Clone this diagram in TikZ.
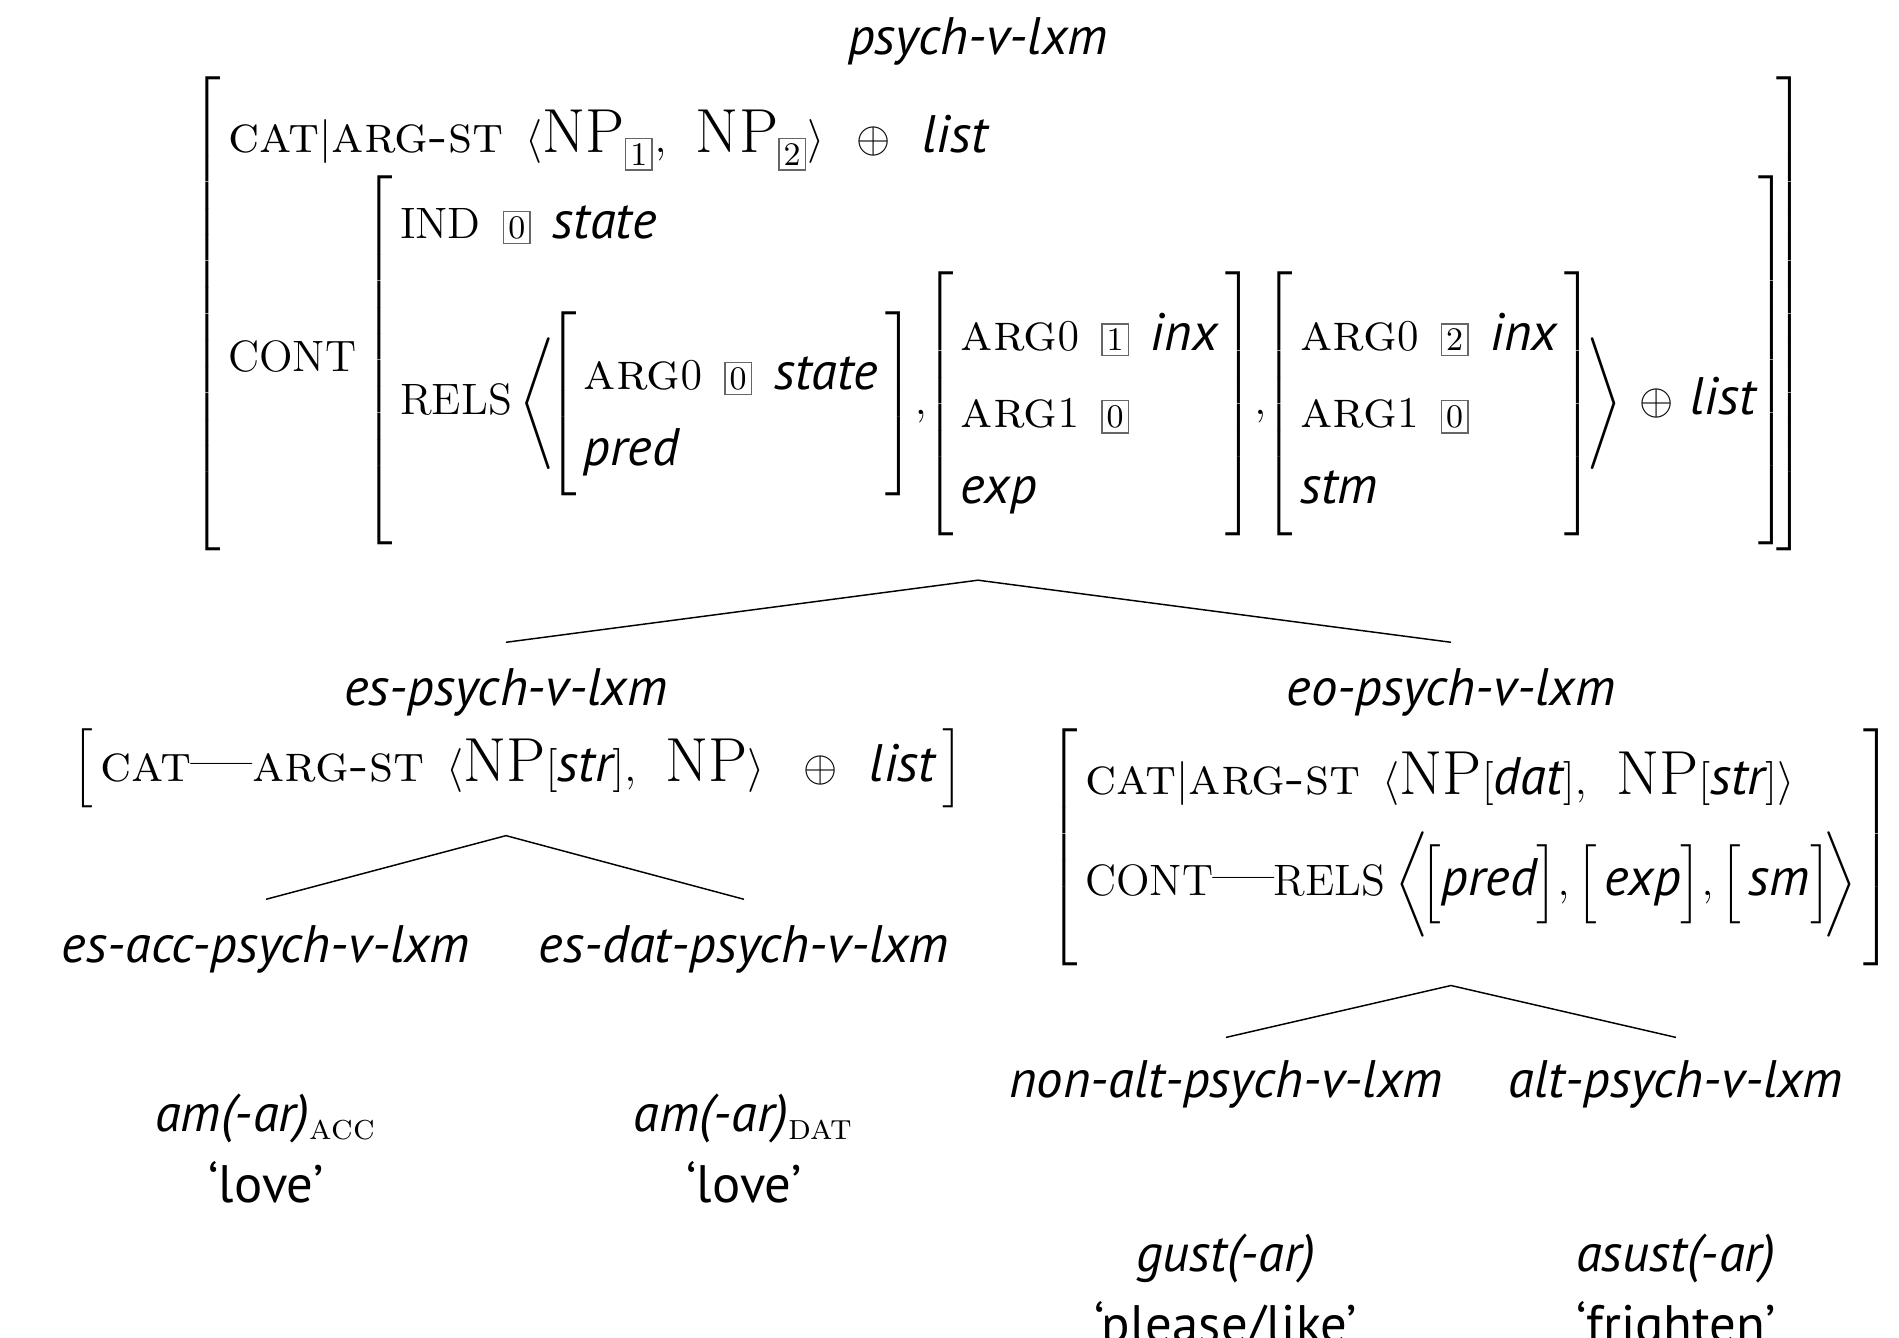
\documentclass[tikz,border=0pt]{standalone}
\usepackage{amsmath}
\usepackage{fontspec}
\newfontfamily\typefont{PT Sans}
\usetikzlibrary{positioning}

% italic type names, features and boxed tags
\newcommand{\ty}[1]{\text{\fontsize{14.4}{17}\selectfont\typefont\itshape #1}}
\newcommand{\fsc}[1]{\text{\fontsize{14.4}{17}\selectfont\scshape #1}}
\newcommand{\np}{\text{\fontsize{17}{20}\selectfont NP}}
\newcommand{\dash}{\text{\fontsize{18}{20}\selectfont ---}}
\newcommand{\tg}[1]{\text{\setlength{\fboxsep}{1.1pt}\setlength{\fboxrule}{0.4pt}\fcolorbox{black!60}{white}{\fontsize{9}{10}\selectfont\normalfont #1}}}
\newcommand{\gap}{\mkern9mu}
\newcommand{\pad}{\hspace{2pt}}
\newcommand{\tp}{\rule{0pt}{19pt}}
\newcommand{\avm}[1]{\renewcommand{\arraystretch}{1.45}\delimitershortfall=-1pt\delimiterfactor=1001 $#1$}
\newcommand{\lex}[2]{\begin{tabular}[t]{@{}c@{}}#1\\[1.2pt]#2\end{tabular}}

\begin{document}
\begin{tikzpicture}[x=0.0096cm, y=-0.0096cm, typelabel/.style={font=\Large\typefont\itshape, inner sep=0pt, anchor=base}, avmbox/.style={font=\fontsize{12}{14.4}\selectfont, inner sep=0pt, anchor=north west}, lexeme/.style={font=\Large\typefont, inner sep=0pt, anchor=base}, branch/.style={line width=0.4pt}]
\useasboundingbox (0,0) rectangle (1899,1338);
% top type
\node[typelabel] (psych) at (978,55) {psych-v-lxm};
\node[avmbox] (psychavm) at (191,76) {\avm{\left[\begin{array}{@{\pad}l@{\hspace{-3pt}}}
  \tp\fsc{cat}|\fsc{arg-st}\gap\langle\np_{\tg{1}},\gap\np_{\tg{2}}\rangle\gap\oplus\gap\ty{list}\\
  \mathrm{CONT}\left[\begin{array}{@{\pad}l@{\pad}}
    \mathrm{IND}\gap\tg{0}\gap\ty{state}\\[3pt]
    \mathrm{RELS}\mkern3mu\Biggl\langle\!\left[\begin{array}{@{\pad}l@{\pad}}
      \tp\fsc{arg}0\gap\tg{0}\gap\ty{state}\\
      \ty{pred}
    \end{array}\right]\!,\mkern-4mu\left[\begin{array}{@{\pad}l@{\pad}}
      \tp\fsc{arg}0\gap\tg{1}\gap\ty{inx}\\
      \fsc{arg}1\gap\tg{0}\\
      \ty{exp}
    \end{array}\right]\!,\mkern-4mu\left[\begin{array}{@{\pad}l@{\pad}}
      \tp\fsc{arg}0\gap\tg{2}\gap\ty{inx}\\
      \fsc{arg}1\gap\tg{0}\\
      \ty{stm}
    \end{array}\right]\!\Biggr\rangle\mkern3mu\oplus\mkern3mu\ty{list}\mkern-2mu
  \end{array}\right]\\[4pt]
\end{array}\right]}};
% subject experiencer
\node[typelabel] (es) at (506,706) {es-psych-v-lxm};
\node[avmbox] (esavm) at (72,728) {\avm{\renewcommand{\arraystretch}{1.3}\left[\begin{array}{@{\pad}l@{\pad}}
  \fsc{cat}\dash\fsc{arg-st}\gap\langle\np[\ty{str}],\gap\np\rangle\mkern12mu\oplus\gap\ty{list}
\end{array}\right]}};
% object experiencer
\node[typelabel] (eo) at (1451,706) {eo-psych-v-lxm};
\node[avmbox] (eoavm) at (1048,728) {\avm{\left[\begin{array}{@{\pad}l@{\pad}}
  \fsc{cat}|\fsc{arg-st}\gap\langle\np[\ty{dat}],\gap\np[\ty{str}]\rangle\\[4pt]
  \rule[-16pt]{0pt}{1pt}\mathrm{CONT}\dash\mathrm{RELS}\mkern4mu\Bigl\langle\!\bigl[\ty{pred}\bigr],\bigl[\,\ty{exp}\bigr],\bigl[\,\ty{sm}\bigr]\!\Bigr\rangle
\end{array}\right]}};
% subtypes
\node[typelabel] (esacc) at (266,963) {es-acc-psych-v-lxm};
\node[typelabel] (esdat) at (744,963) {es-dat-psych-v-lxm};
\node[typelabel] (nonalt) at (1226,1098) {non-alt-psych-v-lxm};
\node[typelabel] (alt) at (1676,1098) {alt-psych-v-lxm};
% verbs
\node[lexeme] (amacc) at (266,1132) {\lex{\textit{am(-ar)}$_{\text{\normalfont\textsc{acc}}}$}{‘love’}};
\node[lexeme] (amdat) at (744,1132) {\lex{\textit{am(-ar)}$_{\text{\normalfont\textsc{dat}}}$}{‘love’}};
\node[lexeme] (gust) at (1226,1272) {\lex{\textit{gust(-ar)}}{‘please/like’}};
\node[lexeme] (asust) at (1676,1272) {\lex{\textit{asust(-ar)}}{‘frighten’}};
% hierarchy
\draw[branch] ([yshift=0.25cm]es.north) -- ([yshift=-0.27cm]psych |- psychavm.south) -- ([yshift=0.25cm]eo.north);
\draw[branch] ([yshift=0.25cm]esacc.north) -- ([yshift=-0.26cm]es |- esavm.south) -- ([yshift=0.25cm]esdat.north);
\draw[branch] ([yshift=0.22cm]nonalt.north) -- ([yshift=-0.18cm]eo |- eoavm.south) -- ([yshift=0.22cm]alt.north);
\end{tikzpicture}
\end{document}
